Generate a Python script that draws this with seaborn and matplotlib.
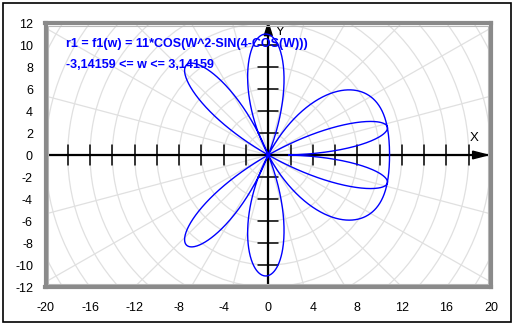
import numpy as np
import pandas as pd
import matplotlib
matplotlib.use("Agg")
import matplotlib.pyplot as plt
from matplotlib.patches import Rectangle, Circle
import seaborn as sns

# ---- data: the polar function shown in the chart ----
AMPLITUDE = 11.0
W_MIN, W_MAX = -3.14159, 3.14159
N_SAMPLES = 2000
formula_text = "r1 = f1(w) = 11*COS(W^2-SIN(4-COS(W)))"
range_text = "-3,14159 <= w <= 3,14159"

x_ticks = [-20, -16, -12, -8, -4, 0, 4, 8, 12, 16, 20]
y_ticks = [-12, -10, -8, -6, -4, -2, 0, 2, 4, 6, 8, 10, 12]
x_minor = [v for v in range(-18, 19, 2) if v != 0]
y_minor = [v for v in range(-10, 11, 2) if v != 0]
grid_radii = list(range(2, 26, 2))
grid_angles_deg = list(range(0, 360, 15))

w = np.linspace(W_MIN, W_MAX, N_SAMPLES)
r = AMPLITUDE * np.cos(w ** 2 - np.sin(4 - np.cos(w)))
df = pd.DataFrame({"x": r * np.cos(w), "y": r * np.sin(w), "order": np.arange(N_SAMPLES)})

sns.set_style("white")
plt.rcParams["font.family"] = ["Liberation Sans", "DejaVu Sans"]

W_PX, H_PX = 515, 324
fig = plt.figure(figsize=(W_PX / 100, H_PX / 100), dpi=100)
fig.patch.set_facecolor("white")

# outer frame
fig.add_artist(Rectangle((3 / W_PX, 2.5 / H_PX), 508 / W_PX, 319 / H_PX,
                         transform=fig.transFigure, fill=False,
                         edgecolor="black", linewidth=1.2))

L, R, T, B = 45.5, 491, 23, 287
ax = fig.add_axes([L / W_PX, 1 - B / H_PX, (R - L) / W_PX, (B - T) / H_PX])
ax.set_xlim(-20, 20)
ax.set_ylim(-12, 12)

# polar grid
grid_col = "#e0e0e0"
for rad in grid_radii:
    ax.add_patch(Circle((0, 0), rad, fill=False, edgecolor=grid_col, linewidth=0.9, zorder=1))
for a in grid_angles_deg:
    t = np.deg2rad(a)
    ax.plot([0, 30 * np.cos(t)], [0, 30 * np.sin(t)], color=grid_col, linewidth=0.9, zorder=1)

# axes lines with ticks and arrows
ax.plot([-20, 20], [0, 0], color="black", linewidth=1.6, zorder=3)
ax.plot([0, 0], [-12, 12], color="black", linewidth=1.6, zorder=3)
for xv in x_minor:
    ax.plot([xv, xv], [-0.9, 0.9], color="black", linewidth=1.1, zorder=3)
for yv in y_minor:
    ax.plot([-0.9, 0.9], [yv, yv], color="black", linewidth=1.1, zorder=3)
ax.fill([18.35, 19.7, 18.35], [0.35, 0, -0.35], color="black", zorder=4, clip_on=False)
ax.fill([-0.36, 0, 0.36], [10.85, 12.0, 10.85], color="black", zorder=4, clip_on=False)
ax.text(18.5, 1.0, "X", fontsize=9.5, ha="center", va="bottom", color="black", zorder=5)
ax.text(0.65, 11.2, "Y", fontsize=9.5, ha="left", va="center", color="black", zorder=5)

# curve
sns.lineplot(data=df, x="x", y="y", sort=False, estimator=None, color="#0000ff",
             linewidth=1.0, ax=ax, zorder=6)

# text
ax.text(-18.2, 10.1, formula_text, fontsize=9, fontweight="bold", color="#0000ff",
        ha="left", va="center", zorder=7)
ax.text(-18.2, 8.2, range_text, fontsize=9, fontweight="bold", color="#0000ff",
        ha="left", va="center", zorder=7)

ax.set_xticks(x_ticks)
ax.set_xticklabels([str(v) for v in x_ticks])
ax.set_yticks(y_ticks)
ax.set_yticklabels([str(v) for v in y_ticks])
ax.tick_params(axis="both", length=0, labelsize=9, colors="black")
ax.tick_params(axis="x", pad=10.5)
ax.tick_params(axis="y", pad=9)
ax.set_xlabel("")
ax.set_ylabel("")
for s in ax.spines.values():
    s.set_color("#8a8a8a")
    s.set_linewidth(3)
    s.set_zorder(8)
# inner light line of the double border
ax.add_patch(Rectangle((0.006, 0.01), 0.988, 0.98, transform=ax.transAxes, fill=False,
                       edgecolor="#b8b8b8", linewidth=0.8, zorder=8))

fig.savefig("out.png", dpi=100)
